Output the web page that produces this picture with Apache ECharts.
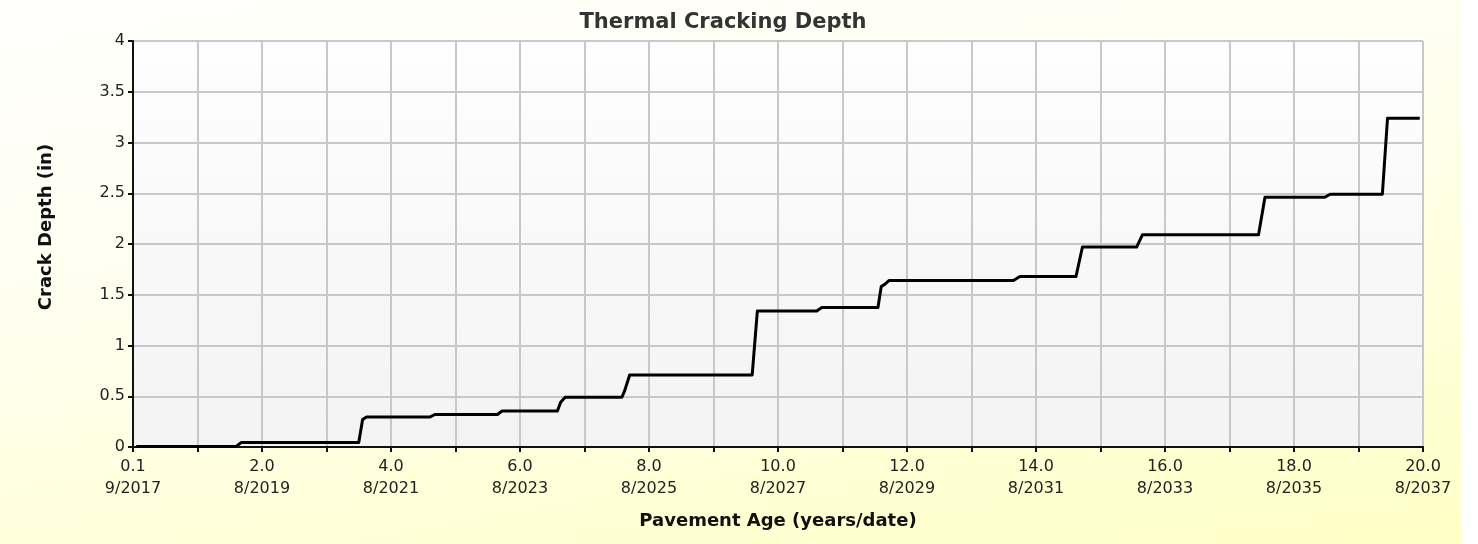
<!DOCTYPE html>
<html>
<head>
<meta charset="utf-8">
<script src="https://cdn.jsdelivr.net/npm/echarts@6/dist/echarts.min.js"></script>
<style>
  html, body { margin: 0; padding: 0; background: #ffffff; }
  #main {
    width: 1462px; height: 544px;
    background: linear-gradient(170deg, #fffffd 0%, #fffff0 40%, #ffffc6 100%);
  }
</style>
</head>
<body>
<div id="main"></div>
<script>
// age labels (years) and dates shown under every 2nd year tick
var ageLabels = ['0.1', '2.0', '4.0', '6.0', '8.0', '10.0', '12.0', '14.0', '16.0', '18.0', '20.0'];
var dateLabels = ['9/2017', '8/2019', '8/2021', '8/2023', '8/2025', '8/2027', '8/2029', '8/2031', '8/2033', '8/2035', '8/2037'];

// pavement age (years) where the curve turns
var ageYears = [0.05, 1.6, 1.68, 3.5, 3.56, 3.62, 4.6, 4.68, 5.65, 5.72, 6.58, 6.63, 6.7,
  7.58, 7.62, 7.7, 9.6, 9.68, 10.6, 10.68, 11.55, 11.6, 11.65, 11.72, 13.65, 13.75,
  14.62, 14.72, 15.56, 15.65, 17.45, 17.55, 18.48, 18.56, 19.37, 19.45, 19.95];
// crack depth (in) at those points
var crackDepth = [0.005, 0.005, 0.045, 0.045, 0.27, 0.295, 0.295, 0.32, 0.32, 0.355, 0.355, 0.44, 0.49,
  0.49, 0.55, 0.71, 0.71, 1.34, 1.34, 1.375, 1.375, 1.58, 1.6, 1.64, 1.64, 1.68,
  1.68, 1.97, 1.97, 2.09, 2.09, 2.46, 2.46, 2.49, 2.49, 3.24, 3.24];

var seriesData = ageYears.map(function (x, i) { return [x, crackDepth[i]]; });

var font = 'DejaVu Sans, Verdana, sans-serif';
var myChart = echarts.init(document.getElementById('main'));
myChart.setOption({
  animation: false,
  backgroundColor: 'transparent',
  title: {
    text: 'Thermal Cracking Depth',
    left: 718, top: 7, textAlign: 'center',
    textStyle: { fontFamily: font, fontSize: 21, fontWeight: 'bold', color: '#333333' }
  },
  grid: {
    left: 133, right: 39, top: 41, bottom: 97,
    outerBoundsMode: 'none',
    containLabel: false,
    show: true, borderWidth: 0,
    backgroundColor: {
      type: 'linear', x: 0, y: 0, x2: 0, y2: 1,
      colorStops: [{ offset: 0, color: '#fefefe' }, { offset: 1, color: '#f3f3f3' }]
    }
  },
  xAxis: {
    type: 'value', min: 0, max: 20, interval: 1,
    name: 'Pavement Age (years/date)',
    nameLocation: 'middle', nameGap: 65,
    nameTextStyle: { fontFamily: font, fontSize: 18, fontWeight: 'bold', color: '#111111' },
    axisLine: { show: true, lineStyle: { color: '#111111', width: 2 } },
    axisTick: { show: true, length: 5, lineStyle: { color: '#111111', width: 2 } },
    splitLine: { show: true, lineStyle: { color: '#c8c8c8', width: 2 } },
    axisLabel: {
      fontFamily: font, fontSize: 16, color: '#222222', lineHeight: 22, margin: 9,
      showMinLabel: true, showMaxLabel: true, hideOverlap: false,
      formatter: function (v) {
        if (v % 2 !== 0) return '';
        var i = v / 2;
        return ageLabels[i] + '\n' + dateLabels[i];
      }
    }
  },
  yAxis: {
    type: 'value', min: 0, max: 4, interval: 0.5,
    name: 'Crack Depth (in)',
    nameLocation: 'middle', nameGap: 78, nameRotate: 90,
    nameTextStyle: { fontFamily: font, fontSize: 18, fontWeight: 'bold', color: '#111111', padding: [0, 0, 0, 34] },
    axisLine: { show: true, lineStyle: { color: '#111111', width: 2 } },
    axisTick: { show: true, length: 5, lineStyle: { color: '#111111', width: 2 } },
    splitLine: { show: true, lineStyle: { color: '#c8c8c8', width: 2 } },
    axisLabel: { fontFamily: font, fontSize: 16, color: '#222222', margin: 8 }
  },
  series: [{
    type: 'line',
    data: seriesData,
    showSymbol: false,
    lineStyle: { color: '#000000', width: 3, join: 'round' },
    z: 5
  }]
});
</script>
</body>
</html>
